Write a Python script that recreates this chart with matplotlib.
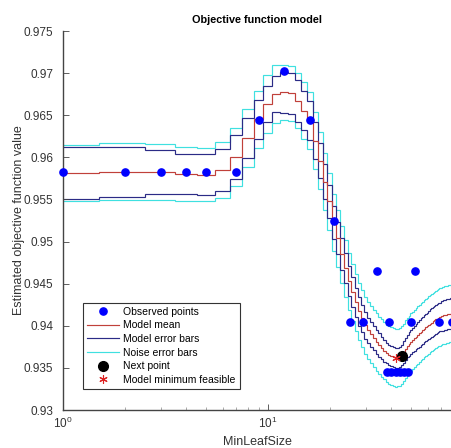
import numpy as np
import matplotlib
matplotlib.use("Agg")
import matplotlib.pyplot as plt
from matplotlib.ticker import FixedLocator, FuncFormatter, LogLocator, NullFormatter
from matplotlib.lines import Line2D

plt.rcParams['font.family'] = ['Liberation Sans', 'DejaVu Sans']

# ---- data -------------------------------------------------------------
leaf_sizes = np.arange(1, 80)  # integer MinLeafSize values 1..79

model_mean = [
    0.95812, 0.95828, 0.95828, 0.95804, 0.95796, 0.95849, 0.96003, 0.96231, 0.96451, 0.96634,
    0.96752, 0.96771, 0.96759, 0.96673, 0.96554, 0.96436, 0.96199, 0.95962, 0.95713, 0.95476,
    0.95227, 0.95038, 0.94848, 0.94682, 0.94528, 0.94398, 0.94280, 0.94173, 0.94090, 0.94007,
    0.93948, 0.93900, 0.93853, 0.93806, 0.93770, 0.93735, 0.93705, 0.93675, 0.93652, 0.93640,
    0.93628, 0.93616, 0.93622, 0.93628, 0.93652, 0.93687, 0.93723, 0.93758, 0.93782, 0.93806,
    0.93829, 0.93853, 0.93871, 0.93889, 0.93912, 0.93930, 0.93948, 0.93966, 0.93983, 0.93995,
    0.94009, 0.94024, 0.94038, 0.94052, 0.94066, 0.94076, 0.94085, 0.94095, 0.94104, 0.94114,
    0.94118, 0.94123, 0.94128, 0.94133, 0.94137, 0.94140, 0.94142, 0.94144, 0.94147,
]

model_err = [
    0.0031, 0.0030, 0.0026, 0.0024, 0.0024, 0.0025, 0.0026, 0.0024, 0.0023, 0.0021,
    0.0021, 0.0024, 0.0024, 0.0025, 0.0023, 0.0023, 0.0022, 0.0021, 0.0021, 0.0020,
    0.0020, 0.0019, 0.0019, 0.0018, 0.0018, 0.0018, 0.0017, 0.0017, 0.0016, 0.0016,
    0.0015, 0.0015, 0.0014, 0.0014, 0.0014, 0.0013, 0.0013, 0.0012, 0.0012, 0.0012,
    0.0012, 0.0012, 0.0012, 0.0012, 0.0012, 0.0013, 0.0013, 0.0013, 0.0014, 0.0014,
    0.0014, 0.0015, 0.0015, 0.0015, 0.0016, 0.0016, 0.0016, 0.0016, 0.0016, 0.0016,
    0.0017, 0.0017, 0.0017, 0.0017, 0.0017, 0.0017, 0.0017, 0.0017, 0.0017, 0.0018,
    0.0018, 0.0018, 0.0018, 0.0018, 0.0018, 0.0018, 0.0018, 0.0018, 0.0018,
]

noise_err = [
    0.0033, 0.0034, 0.0033, 0.0032, 0.0032, 0.0033, 0.0034, 0.0034, 0.0034, 0.0034,
    0.0034, 0.0033, 0.0033, 0.0033, 0.0034, 0.0034, 0.0034, 0.0034, 0.0034, 0.0034,
    0.0034, 0.0034, 0.0034, 0.0034, 0.0034, 0.0034, 0.0034, 0.0034, 0.0034, 0.0034,
    0.0034, 0.0034, 0.0034, 0.0034, 0.0034, 0.0034, 0.0034, 0.0034, 0.0034, 0.0034,
    0.0034, 0.0034, 0.0034, 0.0034, 0.0034, 0.0034, 0.0034, 0.0034, 0.0034, 0.0034,
    0.0034, 0.0034, 0.0034, 0.0034, 0.0034, 0.0034, 0.0034, 0.0034, 0.0034, 0.0034,
    0.0034, 0.0034, 0.0034, 0.0034, 0.0034, 0.0034, 0.0034, 0.0034, 0.0034, 0.0034,
    0.0034, 0.0034, 0.0034, 0.0034, 0.0034, 0.0034, 0.0034, 0.0034, 0.0034,
]

obs_x = [1, 2, 3, 4, 5, 7, 9, 12, 16, 21, 25, 29, 34, 39, 50, 52, 68, 79,
         38, 40, 42, 44, 46, 48]
obs_y = [0.9583, 0.9583, 0.9583, 0.9583, 0.9583, 0.9583, 0.9644, 0.9703, 0.9644, 0.9524,
         0.9405, 0.9405, 0.9465, 0.9405, 0.9405, 0.9465, 0.9405, 0.9405,
         0.9345, 0.9345, 0.9345, 0.9345, 0.9345, 0.9345]

next_x, next_y = [45], [0.9364]
min_x, min_y = [42], [0.9362]

x_limits = (1, 79)
y_limits = (0.93, 0.975)
y_ticks = [0.93, 0.935, 0.94, 0.945, 0.95, 0.955, 0.96, 0.965, 0.97, 0.975]

# ---- figure -------------------------------------------------------------
fig = plt.figure(figsize=(4.52, 4.48), dpi=100)
ax = fig.add_axes([63/452, 38/448, 389/452, 379/448])

mean = np.array(model_mean)
merr = np.array(model_err)
nerr = np.array(noise_err)
edges = np.concatenate([[x_limits[0]], leaf_sizes[:-1] + 0.5, [x_limits[1]]])

c_mean = '#c0403a'
c_model = '#2b2b86'
c_noise = '#3fe0e0'
lw = 0.85

ax.stairs(mean + nerr, edges, baseline=None, color=c_noise, lw=lw)
ax.stairs(mean - nerr, edges, baseline=None, color=c_noise, lw=lw)
ax.stairs(mean + merr, edges, baseline=None, color=c_model, lw=lw)
ax.stairs(mean - merr, edges, baseline=None, color=c_model, lw=lw)
ax.stairs(mean, edges, baseline=None, color=c_mean, lw=lw)

star = (6, 2, 0)
ax.plot(obs_x, obs_y, 'o', color='#0000ff', markersize=5.2, clip_on=False, zorder=5)
ax.plot(next_x, next_y, 'o', color='black', markersize=7, zorder=6)
ax.plot(min_x, min_y, marker=star, ls='none', color='#dd2222', markersize=6,
        markeredgewidth=0.8, zorder=7)

ax.set_xscale('log')
ax.set_xlim(*x_limits)
ax.set_ylim(*y_limits)
ax.yaxis.set_major_locator(FixedLocator(y_ticks))
ax.yaxis.set_major_formatter(FuncFormatter(lambda v, p: ('%.3f' % v).rstrip('0')))
ax.xaxis.set_major_locator(LogLocator(base=10, numticks=5))
ax.xaxis.set_minor_locator(LogLocator(base=10, subs=np.arange(2, 10), numticks=10))
ax.xaxis.set_minor_formatter(NullFormatter())

for s in ['top', 'right']:
    ax.spines[s].set_visible(False)
for s in ['left', 'bottom']:
    ax.spines[s].set_color('#444444')
    ax.spines[s].set_linewidth(1.0)

ax.tick_params(axis='both', which='major', direction='in', length=4, width=0.6,
               colors='#444444', labelcolor='#333333', labelsize=8.5)
ax.tick_params(axis='y', which='major', pad=7)
ax.tick_params(axis='x', which='minor', direction='in', length=2.5, width=0.5, colors='#888888')
ax.tick_params(axis='x', which='major', pad=4)

ax.set_xlabel('MinLeafSize', fontsize=9, color='#333333', labelpad=4)
ax.set_ylabel('Estimated objective function value', fontsize=9, color='#333333', labelpad=-1)
ax.set_title('Objective function model', fontsize=7.8, fontweight='bold', pad=6)

handles = [
    Line2D([], [], ls='none', marker='o', color='#0000ff', markersize=5.2),
    Line2D([], [], color=c_mean, lw=lw),
    Line2D([], [], color=c_model, lw=lw),
    Line2D([], [], color=c_noise, lw=lw),
    Line2D([], [], ls='none', marker='o', color='black', markersize=7),
    Line2D([], [], ls='none', marker=star, color='#dd2222', markersize=6, markeredgewidth=0.8),
]
labels = ['Observed points', 'Model mean', 'Model error bars', 'Noise error bars',
          'Next point', 'Model minimum feasible']
leg = ax.legend(handles, labels, loc='lower left', bbox_to_anchor=(0.051, 0.055),
                borderaxespad=0, fontsize=7.5, frameon=True, fancybox=False,
                handlelength=3.1, handletextpad=0.4, labelspacing=0.35,
                borderpad=0.4, framealpha=1)
leg.get_frame().set_edgecolor('#333333')
leg.get_frame().set_linewidth(0.8)

fig.savefig('out.png', dpi=100)
